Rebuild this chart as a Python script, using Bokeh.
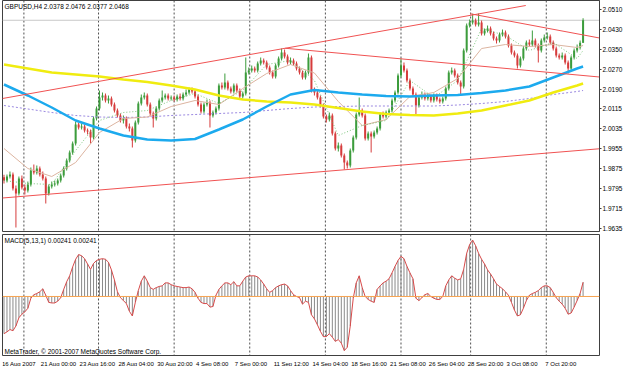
from bokeh.plotting import figure
from bokeh.models import Range1d, FixedTicker, PrintfTickFormatter, Span, Label, ColumnDataSource
from bokeh.layouts import column
from bokeh.embed import file_html
from bokeh.resources import INLINE
from bokeh.core.properties import value

# ---------------- data (GBPUSD, H4) ----------------
opens = [
1.9840, 1.9827, 1.9843, 1.9851, 1.9795, 1.9775, 1.9835, 1.9799, 1.9787, 1.9811,
1.9867, 1.9859, 1.9875, 1.9851, 1.9835, 1.9775, 1.9803, 1.9811, 1.9815, 1.9827,
1.9847, 1.9875, 1.9907, 1.9939, 1.9975, 2.0051, 2.0039, 2.0043, 2.0027, 2.0023,
1.9999, 2.0075, 2.0115, 2.0159, 2.0167, 2.0147, 2.0155, 2.0131, 2.0107, 2.0087,
2.0067, 2.0075, 2.0043, 2.0035, 1.9987, 2.0059, 2.0135, 2.0159, 2.0167, 2.0131,
2.0095, 2.0075, 2.0115, 2.0147, 2.0159, 2.0167, 2.0155, 2.0159, 2.0151, 2.0163,
2.0155, 2.0171, 2.0179, 2.0191, 2.0183, 2.0163, 2.0131, 2.0103, 2.0131, 2.0139,
2.0087, 2.0099, 2.0115, 2.0207, 2.0199, 2.0219, 2.0195, 2.0183, 2.0207, 2.0187,
2.0163, 2.0175, 2.0259, 2.0267, 2.0275, 2.0267, 2.0295, 2.0307, 2.0299, 2.0279,
2.0259, 2.0243, 2.0287, 2.0315, 2.0339, 2.0323, 2.0299, 2.0307, 2.0295, 2.0275,
2.0259, 2.0239, 2.0259, 2.0319, 2.0187, 2.0179, 2.0159, 2.0127, 2.0083, 2.0071,
2.0087, 2.0015, 1.9955, 1.9967, 1.9927, 1.9899, 1.9887, 1.9947, 1.9999, 2.0091,
2.0107, 2.0087, 1.9995, 2.0015, 2.0003, 2.0019, 2.0035, 2.0091, 2.0083, 2.0099,
2.0107, 2.0147, 2.0179, 2.0247, 2.0287, 2.0267, 2.0227, 2.0195, 2.0171, 2.0127,
2.0159, 2.0171, 2.0155, 2.0163, 2.0147, 2.0167, 2.0151, 2.0143, 2.0155, 2.0195,
2.0259, 2.0267, 2.0247, 2.0219, 2.0203, 2.0347, 2.0447, 2.0459, 2.0467, 2.0451,
2.0459, 2.0415, 2.0427, 2.0435, 2.0415, 2.0395, 2.0387, 2.0411, 2.0419, 2.0403,
2.0367, 2.0339, 2.0327, 2.0287, 2.0315, 2.0355, 2.0379, 2.0371, 2.0387, 2.0367,
2.0347, 2.0387, 2.0399, 2.0403, 2.0379, 2.0355, 2.0327, 2.0319, 2.0327, 2.0299,
2.0275, 2.0319, 2.0347, 2.0359, 2.0378]

highs = [
1.9850, 1.9851, 1.9863, 1.9859, 1.9807, 1.9843, 1.9847, 1.9811, 1.9823, 1.9879,
1.9891, 1.9887, 1.9883, 1.9863, 1.9843, 1.9811, 1.9823, 1.9827, 1.9835, 1.9855,
1.9883, 1.9915, 1.9947, 1.9983, 2.0063, 2.0059, 2.0055, 2.0051, 2.0035, 2.0031,
2.0083, 2.0123, 2.0187, 2.0179, 2.0175, 2.0167, 2.0163, 2.0139, 2.0115, 2.0095,
2.0087, 2.0083, 2.0055, 2.0043, 2.0067, 2.0143, 2.0171, 2.0179, 2.0175, 2.0139,
2.0103, 2.0123, 2.0155, 2.0187, 2.0175, 2.0175, 2.0167, 2.0167, 2.0171, 2.0175,
2.0179, 2.0191, 2.0199, 2.0199, 2.0191, 2.0171, 2.0139, 2.0139, 2.0151, 2.0147,
2.0107, 2.0123, 2.0215, 2.0219, 2.0255, 2.0227, 2.0203, 2.0215, 2.0215, 2.0195,
2.0183, 2.0319, 2.0279, 2.0287, 2.0283, 2.0303, 2.0319, 2.0315, 2.0307, 2.0287,
2.0267, 2.0295, 2.0323, 2.0355, 2.0351, 2.0331, 2.0319, 2.0315, 2.0303, 2.0283,
2.0267, 2.0267, 2.0335, 2.0327, 2.0199, 2.0187, 2.0167, 2.0135, 2.0091, 2.0099,
2.0095, 2.0023, 1.9979, 1.9975, 1.9935, 1.9907, 1.9955, 2.0007, 2.0099, 2.0159,
2.0115, 2.0095, 2.0023, 2.0023, 2.0027, 2.0043, 2.0099, 2.0103, 2.0107, 2.0115,
2.0155, 2.0187, 2.0255, 2.0315, 2.0299, 2.0275, 2.0235, 2.0203, 2.0179, 2.0167,
2.0183, 2.0179, 2.0175, 2.0171, 2.0175, 2.0175, 2.0159, 2.0163, 2.0203, 2.0267,
2.0279, 2.0275, 2.0255, 2.0227, 2.0355, 2.0455, 2.0471, 2.0494, 2.0475, 2.0495,
2.0467, 2.0435, 2.0447, 2.0443, 2.0423, 2.0403, 2.0419, 2.0431, 2.0427, 2.0411,
2.0375, 2.0347, 2.0335, 2.0323, 2.0363, 2.0387, 2.0391, 2.0427, 2.0395, 2.0375,
2.0395, 2.0411, 2.0419, 2.0411, 2.0387, 2.0363, 2.0335, 2.0339, 2.0335, 2.0307,
2.0327, 2.0355, 2.0371, 2.0387, 2.0476]

lows = [
1.9815, 1.9819, 1.9835, 1.9787, 1.9639, 1.9767, 1.9791, 1.9771, 1.9779, 1.9803,
1.9851, 1.9851, 1.9843, 1.9827, 1.9735, 1.9767, 1.9795, 1.9803, 1.9807, 1.9819,
1.9839, 1.9867, 1.9899, 1.9931, 1.9967, 2.0031, 2.0031, 2.0019, 2.0011, 1.9975,
1.9991, 2.0067, 2.0107, 2.0147, 2.0139, 2.0135, 2.0123, 2.0099, 2.0079, 2.0059,
2.0055, 2.0035, 2.0023, 1.9959, 1.9979, 2.0051, 2.0127, 2.0151, 2.0123, 2.0083,
2.0039, 2.0067, 2.0107, 2.0139, 2.0151, 2.0147, 2.0147, 2.0143, 2.0143, 2.0147,
2.0147, 2.0163, 2.0171, 2.0175, 2.0155, 2.0123, 2.0095, 2.0095, 2.0123, 2.0039,
2.0079, 2.0091, 2.0107, 2.0191, 2.0191, 2.0187, 2.0175, 2.0175, 2.0179, 2.0155,
2.0155, 2.0167, 2.0251, 2.0259, 2.0259, 2.0259, 2.0287, 2.0291, 2.0271, 2.0251,
2.0235, 2.0235, 2.0279, 2.0307, 2.0315, 2.0291, 2.0291, 2.0287, 2.0267, 2.0251,
2.0231, 2.0231, 2.0251, 2.0179, 2.0167, 2.0151, 2.0119, 2.0075, 2.0059, 2.0063,
2.0007, 1.9947, 1.9943, 1.9919, 1.9871, 1.9875, 1.9879, 1.9939, 1.9991, 2.0083,
2.0079, 1.9987, 1.9987, 1.9939, 1.9995, 2.0011, 2.0027, 2.0075, 2.0075, 2.0091,
2.0099, 2.0139, 2.0171, 2.0239, 2.0259, 2.0219, 2.0187, 2.0163, 2.0087, 2.0119,
2.0151, 2.0147, 2.0147, 2.0139, 2.0139, 2.0143, 2.0135, 2.0135, 2.0147, 2.0187,
2.0251, 2.0239, 2.0211, 2.0167, 2.0195, 2.0339, 2.0439, 2.0451, 2.0443, 2.0443,
2.0407, 2.0407, 2.0419, 2.0407, 2.0387, 2.0375, 2.0379, 2.0403, 2.0395, 2.0359,
2.0331, 2.0319, 2.0275, 2.0279, 2.0307, 2.0347, 2.0363, 2.0363, 2.0359, 2.0299,
2.0339, 2.0379, 2.0391, 2.0371, 2.0347, 2.0319, 2.0311, 2.0311, 2.0291, 2.0255,
2.0267, 2.0311, 2.0339, 2.0351, 2.0377]

closes = [
1.9827, 1.9843, 1.9851, 1.9795, 1.9775, 1.9835, 1.9799, 1.9787, 1.9811, 1.9867,
1.9859, 1.9875, 1.9851, 1.9835, 1.9775, 1.9803, 1.9811, 1.9815, 1.9827, 1.9847,
1.9875, 1.9907, 1.9939, 1.9975, 2.0051, 2.0039, 2.0043, 2.0027, 2.0023, 1.9999,
2.0075, 2.0115, 2.0159, 2.0167, 2.0147, 2.0155, 2.0131, 2.0107, 2.0087, 2.0067,
2.0075, 2.0043, 2.0035, 1.9987, 2.0059, 2.0135, 2.0159, 2.0167, 2.0131, 2.0095,
2.0075, 2.0115, 2.0147, 2.0159, 2.0167, 2.0155, 2.0159, 2.0151, 2.0163, 2.0155,
2.0171, 2.0179, 2.0191, 2.0183, 2.0163, 2.0131, 2.0103, 2.0131, 2.0139, 2.0087,
2.0099, 2.0115, 2.0207, 2.0199, 2.0219, 2.0195, 2.0183, 2.0207, 2.0187, 2.0163,
2.0175, 2.0259, 2.0267, 2.0275, 2.0267, 2.0295, 2.0307, 2.0299, 2.0279, 2.0259,
2.0243, 2.0287, 2.0315, 2.0339, 2.0323, 2.0299, 2.0307, 2.0295, 2.0275, 2.0259,
2.0239, 2.0259, 2.0319, 2.0187, 2.0179, 2.0159, 2.0127, 2.0083, 2.0071, 2.0087,
2.0015, 1.9955, 1.9967, 1.9927, 1.9899, 1.9887, 1.9947, 1.9999, 2.0091, 2.0107,
2.0087, 1.9995, 2.0015, 2.0003, 2.0019, 2.0035, 2.0091, 2.0083, 2.0099, 2.0107,
2.0147, 2.0179, 2.0247, 2.0287, 2.0267, 2.0227, 2.0195, 2.0171, 2.0127, 2.0159,
2.0171, 2.0155, 2.0163, 2.0147, 2.0167, 2.0151, 2.0143, 2.0155, 2.0195, 2.0259,
2.0267, 2.0247, 2.0219, 2.0203, 2.0347, 2.0447, 2.0459, 2.0467, 2.0451, 2.0459,
2.0415, 2.0427, 2.0435, 2.0415, 2.0395, 2.0387, 2.0411, 2.0419, 2.0403, 2.0367,
2.0339, 2.0327, 2.0287, 2.0315, 2.0355, 2.0379, 2.0371, 2.0387, 2.0367, 2.0347,
2.0387, 2.0399, 2.0403, 2.0379, 2.0355, 2.0327, 2.0319, 2.0327, 2.0299, 2.0275,
2.0319, 2.0347, 2.0359, 2.0378, 2.0468]

macd = [
-0.0063, -0.0060, -0.0056, -0.0058, -0.0050, -0.0036, -0.0030, -0.0026, -0.0020, -0.0003,
0.0003, 0.0005, 0.0008, 0.0013, 0.0002, -0.0010, -0.0011, -0.0011, -0.0008, -0.0002,
0.0012, 0.0025, 0.0035, 0.0050, 0.0063, 0.0071, 0.0069, 0.0064, 0.0055, 0.0046,
0.0056, 0.0061, 0.0063, 0.0064, 0.0063, 0.0058, 0.0045, 0.0028, 0.0008, -0.0002,
-0.0007, -0.0012, -0.0025, -0.0033, -0.0010, 0.0010, 0.0026, 0.0035, 0.0026, 0.0015,
0.0012, 0.0015, 0.0017, 0.0018, 0.0023, 0.0023, 0.0020, 0.0018, 0.0017, 0.0016,
0.0015, 0.0015, 0.0016, 0.0013, 0.0007, -0.0003, -0.0010, -0.0012, -0.0012, -0.0018,
-0.0017, 0.0002, 0.0012, 0.0018, 0.0023, 0.0023, 0.0020, 0.0025, 0.0018, 0.0018,
0.0026, 0.0033, 0.0035, 0.0035, 0.0035, 0.0033, 0.0028, 0.0021, 0.0013, 0.0007,
0.0010, 0.0015, 0.0018, 0.0020, 0.0021, 0.0018, 0.0010, 0.0003, 0.0000, -0.0002,
-0.0013, -0.0008, -0.0010, -0.0031, -0.0038, -0.0048, -0.0059, -0.0068, -0.0068, -0.0063,
-0.0069, -0.0076, -0.0073, -0.0079, -0.00917, -0.0086, -0.0050, -0.0003, 0.0023, 0.0035,
0.0015, 0.0000, -0.0005, -0.0008, -0.0010, 0.0012, 0.0018, 0.0023, 0.0026, 0.0030,
0.0040, 0.0051, 0.0061, 0.0068, 0.0064, 0.0051, 0.0040, 0.0030, -0.0003, -0.0007,
-0.0002, 0.0003, 0.0005, 0.0000, -0.0003, -0.0005, -0.0005, 0.0000, 0.0018, 0.0028,
0.0035, 0.0031, 0.0028, 0.0030, 0.0046, 0.0073, 0.0088, 0.00955, 0.0086, 0.0073,
0.0063, 0.0055, 0.0045, 0.0038, 0.0030, 0.0021, 0.0017, 0.0013, 0.0008, 0.0002,
-0.0010, -0.0023, -0.0033, -0.0031, -0.0020, -0.0007, 0.0002, 0.0005, 0.0007, 0.0010,
0.0015, 0.0018, 0.0018, 0.0015, 0.0007, -0.0002, -0.0008, -0.0013, -0.0020, -0.0030,
-0.0028, -0.0018, -0.0007, 0.0005, 0.00241]

# moving averages, read at every 8th bar (plus the last one)
ma_bars = [0, 8, 16, 24, 32, 40, 48, 56, 64, 72, 80, 88, 96, 104, 112, 120,
           128, 136, 144, 152, 160, 168, 176, 184, 192, 194]
ma_blue = [2.0211, 2.0167, 2.0119, 2.0067, 2.0035, 2.0007, 1.9991, 1.9987, 1.9993, 2.0031,
           2.0071, 2.0123, 2.0171, 2.0189, 2.0179, 2.0171, 2.0165, 2.0163, 2.0167, 2.0169,
           2.0177, 2.0187, 2.0203, 2.0239, 2.0275, 2.0283]
ma_yellow = [2.0291, 2.0275, 2.0259, 2.0251, 2.0243, 2.0231, 2.0221, 2.0207, 2.0191, 2.0167,
             2.0151, 2.0143, 2.0139, 2.0131, 2.0117, 2.0103, 2.0093, 2.0089, 2.0087, 2.0095,
             2.0107, 2.0127, 2.0147, 2.0179, 2.0207, 2.0215]
ma_purple = [2.0127, 2.0113, 2.0099, 2.0087, 2.0081, 2.0079, 2.0081, 2.0087, 2.0091, 2.0095,
             2.0099, 2.0107, 2.0115, 2.0121, 2.0123, 2.0125, 2.0125, 2.0125, 2.0125, 2.0129,
             2.0135, 2.0143, 2.0155, 2.0171, 2.0183, 2.0187]
ma_tan = [1.9955, 1.9875, 1.9843, 1.9899, 2.0019, 2.0075, 2.0081, 2.0123, 2.0147, 2.0131,
          2.0195, 2.0255, 2.0291, 2.0257, 2.0143, 2.0047, 2.0071, 2.0163, 2.0179, 2.0235,
          2.0355, 2.0371, 2.0363, 2.0371, 2.0359, 2.0367]
ma_green = [1.9827, 1.9815, 1.9811, 1.9947, 2.0067, 2.0099, 2.0107, 2.0147, 2.0175, 2.0135,
            2.0187, 2.0291, 2.0307, 2.0227, 2.0007, 2.0047, 2.0067, 2.0227, 2.0159, 2.0227,
            2.0435, 2.0407, 2.0347, 2.0379, 2.0315, 2.0347]

# trend lines (bar index / price)
trend_x0 = [-0.5, -0.5, 94.2, 156.2]
trend_x1 = [199.5, 174.8, 199.5, 199.5]
trend_p0 = [1.9757, 2.0155, 2.0356, 2.0494]
trend_p1 = [1.9954, 2.0527, 2.0241, 2.0397]

price_ticks = [2.0510, 2.0430, 2.0350, 2.0270, 2.0190, 2.0115, 2.0035,
               1.9955, 1.9875, 1.9795, 1.9715, 1.9635]
macd_ticks = [0.00955, 0.0, -0.00917]
macd_tick_labels = ["0.00955", "0.0000", "-0.00917"]
date_labels = ["16 Aug 2007", "21 Aug 00:00", "23 Aug 16:00", "28 Aug 04:00",
               "30 Aug 20:00", "4 Sep 08:00", "7 Sep 00:00", "11 Sep 12:00",
               "14 Sep 04:00", "18 Sep 16:00", "21 Sep 08:00", "26 Sep 04:00",
               "28 Sep 20:00", "3 Oct 08:00", "7 Oct 20:00"]
date_label_bars = [13 * k for k in range(len(date_labels))]

# ---------------- styling / layout ----------------
FONT = "Liberation Sans"
FS = "6.5px"
FS_DATE = "6px"
UP = "#3c9c3c"
DN = "#d63c3c"
GRID_X = [6.67, 31.67, 57.0, 82.33, 107.67, 133.0, 156.33, 181.67]

n = len(closes)
bars = list(range(n))
xr = Range1d(-0.5, 199.5)

common = dict(width=625, x_range=xr, output_backend="svg", toolbar_location=None,
              min_border_left=2, min_border_right=23,
              background_fill_color="white", border_fill_color="white")

# ---------------- main price panel ----------------
p = figure(height=232, y_range=Range1d(1.9623, 2.0547), x_axis_location=None,
           y_axis_location="right", min_border_top=0, min_border_bottom=1,
           outline_line_color="#404040", **common)
p.grid.visible = False

for g in GRID_X:
    p.add_layout(Span(location=g, dimension="height", line_color="#505050",
                      line_dash="2 2", line_width=1, level="underlay"))
p.add_layout(Span(location=closes[-1], dimension="width", line_color="#c8c8c8",
                  line_width=1, level="underlay"))

colors = [UP if c >= o else DN for o, c in zip(opens, closes)]
src = ColumnDataSource(dict(
    x=bars, high=highs, low=lows,
    top=[max(o, c) for o, c in zip(opens, closes)],
    bottom=[min(o, c) for o, c in zip(opens, closes)],
    color=colors))
p.segment(x0="x", y0="low", x1="x", y1="high", color="color", line_width=1, source=src)
p.vbar(x="x", width=0.67, top="top", bottom="bottom", fill_color="color",
       line_color=None, source=src)

p.line(ma_bars, ma_purple, line_color="#9a88e0", line_width=1, line_dash="2 2")
p.line(ma_bars, ma_tan, line_color="#dcb4a0", line_width=1)
p.line(ma_bars, ma_green, line_color="#5cb85c", line_width=1, line_dash="1 2", line_alpha=0.8)
p.line(ma_bars, ma_yellow, line_color="#f0ec10", line_width=2.5)
p.line(ma_bars, ma_blue, line_color="#1caaee", line_width=2.5)

p.segment(x0=trend_x0, y0=trend_p0, x1=trend_x1, y1=trend_p1,
          line_color="#f05252", line_width=1)

ax = p.yaxis[0]
ax.ticker = FixedTicker(ticks=price_ticks)
ax.formatter = PrintfTickFormatter(format="%.4f")
ax.major_label_text_font = FONT
ax.major_label_text_font_size = FS
ax.major_label_text_color = "#000000"
ax.major_tick_out = 2
ax.major_tick_in = 0
ax.minor_tick_out = 0
ax.minor_tick_in = 0
ax.major_label_standoff = 1
ax.axis_line_color = "#404040"
ax.major_tick_line_color = "#404040"

title_txt = "GBPUSD,H4  %.4f %.4f %.4f %.4f" % (opens[-1], highs[-1], lows[-1], closes[-1])
p.add_layout(Label(x=-0.5, y=2.0522, x_offset=2, text=title_txt, text_font=FONT,
                   text_font_size=FS, text_baseline="middle", text_color="#000000"))
p.add_layout(Label(x=199.5, y=closes[-1], x_offset=2, text="%.4f" % closes[-1],
                   text_font=FONT, text_font_size=FS, text_baseline="middle",
                   text_color="white", background_fill_color="black"))

# ---------------- MACD panel ----------------
m = figure(height=124, y_range=Range1d(-0.0100, 0.0105), x_axis_location=None,
           y_axis_location=None, min_border_top=2, min_border_bottom=1,
           outline_line_color="#404040", **common)
m.grid.visible = False
for g in GRID_X:
    m.add_layout(Span(location=g, dimension="height", line_color="#505050",
                      line_dash="2 2", line_width=1, level="underlay"))
m.add_layout(Span(location=0, dimension="width", line_color="#f7a350", line_width=1))
m.segment(x0=bars, y0=[0] * n, x1=bars, y1=macd, line_color="#8a8a8a", line_width=1)
m.line(bars, macd, line_color="#d84a4a", line_width=1)

for t, lab in zip(macd_ticks, macd_tick_labels):
    if t == 0:
        m.add_layout(Label(x=199.5, y=t, x_offset=2, text=lab, text_font=FONT,
                           text_font_size=FS, text_baseline="middle", text_color="white",
                           background_fill_color="#f7a350"))
    elif t < 0:
        m.add_layout(Label(x=199.5, y=t, x_offset=0, text=lab, text_font=FONT,
                           text_font_size="6px", text_baseline="middle",
                           text_color="#000000"))
    else:
        m.add_layout(Label(x=199.5, y=t, x_offset=2, text=lab, text_font=FONT,
                           text_font_size="6px", text_baseline="middle",
                           text_color="#000000"))

macd_title = "MACD(5,13,1) %.5f %.5f" % (macd[-1], macd[-1])
m.add_layout(Label(x=-0.5, y=0.0095, x_offset=2, text=macd_title, text_font=FONT,
                   text_font_size=FS, text_baseline="middle", text_color="#000000"))
m.add_layout(Label(x=-0.5, y=-0.0093, x_offset=2,
                   text="MetaTrader, \u00a9 2001-2007 MetaQuotes Software Corp.",
                   text_font=FONT, text_font_size=FS, text_baseline="middle",
                   text_color="#000000"))

# ---------------- date strip ----------------
d = figure(height=10, y_range=Range1d(0, 1), x_axis_location=None, y_axis_location=None,
           min_border_top=0, min_border_bottom=0, outline_line_color=None, **common)
d.grid.visible = False
d.text(x=date_label_bars, y=[0.5] * len(date_labels), text=date_labels,
       text_font=value(FONT), text_font_size=FS_DATE, text_baseline="middle",
       text_align="left", x_offset=-2, text_color="#000000")

layout = column(p, m, d, spacing=0)
open("out.html", "w").write(file_html(layout, INLINE))
